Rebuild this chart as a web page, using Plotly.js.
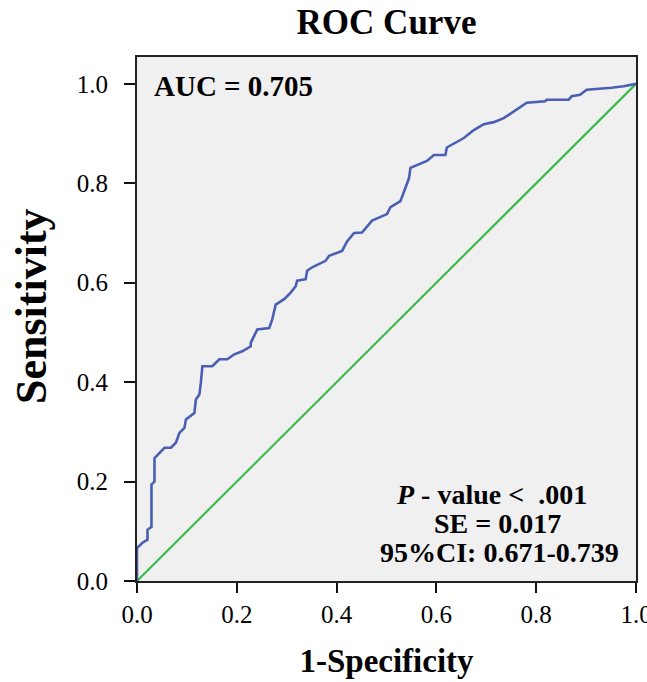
<!DOCTYPE html>
<html>
<head>
<meta charset="utf-8">
<script src="https://cdn.plot.ly/plotly-3.0.1.min.js"></script>
<style>html,body{margin:0;padding:0;background:#fff;}#chart{width:647px;height:682px;}</style>
</head>
<body>
<div id="chart"></div>
<script>
// ROC curve points
const fpr = [0,0,0.011,0.021,0.021,0.029,0.029,0.035,0.035,0.055,0.068,0.078,0.085,0.095,0.098,0.115,0.118,0.125,0.128,0.131,0.151,0.165,0.181,0.195,0.211,0.228,0.228,0.241,0.265,0.271,0.278,0.295,0.308,0.318,0.321,0.338,0.341,0.351,0.378,0.385,0.411,0.421,0.435,0.451,0.471,0.501,0.508,0.528,0.545,0.548,0.581,0.595,0.618,0.621,0.655,0.675,0.695,0.715,0.735,0.755,0.781,0.818,0.821,0.865,0.871,0.888,0.901,0.951,0.975,1];
const tpr = [0,0.066,0.077,0.083,0.103,0.109,0.194,0.2,0.247,0.268,0.268,0.278,0.298,0.308,0.325,0.338,0.365,0.375,0.399,0.432,0.432,0.446,0.446,0.456,0.462,0.472,0.479,0.506,0.509,0.526,0.556,0.567,0.58,0.593,0.604,0.607,0.624,0.631,0.644,0.654,0.664,0.683,0.700,0.701,0.725,0.738,0.752,0.764,0.81,0.831,0.845,0.857,0.857,0.872,0.891,0.907,0.919,0.923,0.931,0.945,0.962,0.965,0.968,0.968,0.975,0.978,0.988,0.992,0.995,1];
const refX = [0, 1];
const refY = [0, 1];
const tickVals = [0, 0.2, 0.4, 0.6, 0.8, 1.0];
const tickText = ["0.0", "0.2", "0.4", "0.6", "0.8", "1.0"];
const statsLines = ["<i>P</i> - value <  .001", "SE = 0.017", "95%CI: 0.671-0.739"];
const aucText = "AUC = 0.705";

const serif = "'Liberation Serif', 'Times New Roman', serif";

const traces = [
  {x: refX, y: refY, type: 'scatter', mode: 'lines', line: {color: '#3dbb4a', width: 2.2}, hoverinfo: 'skip'},
  {x: fpr, y: tpr, type: 'scatter', mode: 'lines', line: {color: '#4a5fb3', width: 2.6}, hoverinfo: 'skip'}
];

const statY = [0.174, 0.116, 0.058];
const statX = [0.71, 0.722, 0.727];
const annotations = [
  {x: 0.03, y: 0.996, xref: 'x', yref: 'y', xanchor: 'left', yanchor: 'middle', showarrow: false,
   text: '<b>' + aucText + '</b>', font: {family: serif, size: 29, color: '#000'}},
  {x: 31, y: 306, xref: 'paper', yref: 'paper', showarrow: false, textangle: -90,
   text: '<b>Sensitivity</b>', font: {family: serif, size: 44, color: '#000'}, xanchor: 'center', yanchor: 'middle'}
];
statsLines.forEach((t, i) => {
  annotations.push({x: statX[i], y: statY[i], xref: 'x', yref: 'y', xanchor: 'center', yanchor: 'middle',
    showarrow: false, text: '<b>' + t + '</b>', font: {family: serif, size: 28, color: '#000'}});
});
// convert the y-title annotation from pixels to paper coordinates
const L = 137, R = 11, T = 57, B = 101, W = 647, H = 682;
annotations[1].x = (31 - L) / (W - L - R);
annotations[1].y = (H - B - 306) / (H - T - B);

const layout = {
  width: W, height: H,
  margin: {l: L, r: R, t: T, b: B},
  paper_bgcolor: '#ffffff',
  plot_bgcolor: '#f0f0f0',
  showlegend: false,
  title: {text: '<b>ROC Curve</b>', x: 0.5, xref: 'paper', xanchor: 'center', y: 0.968, yanchor: 'middle',
          font: {family: serif, size: 35, color: '#000'}},
  xaxis: {
    range: [0, 1], tickvals: tickVals, ticktext: tickText, ticks: 'outside', ticklen: 10, tickwidth: 2, tickcolor: '#111',
    showline: true, linecolor: '#222', linewidth: 2, mirror: true, showgrid: false, zeroline: false,
    ticklabeloverflow: 'allow',
    tickfont: {family: serif, size: 25, color: '#000'},
    title: {text: '<b>1-Specificity</b>', font: {family: serif, size: 33, color: '#000'}, standoff: 22}
  },
  yaxis: {
    range: [0, 1.054], tickvals: tickVals, ticktext: tickText, ticks: 'outside', ticklen: 11, tickwidth: 2, tickcolor: '#111',
    showline: true, linecolor: '#222', linewidth: 2, mirror: true, showgrid: false, zeroline: false,
    tickfont: {family: serif, size: 25, color: '#000'}, ticklabelstandoff: 11
  },
  annotations: annotations
};

Plotly.newPlot('chart', traces, layout, {staticPlot: true, displayModeBar: false});
</script>
</body>
</html>
